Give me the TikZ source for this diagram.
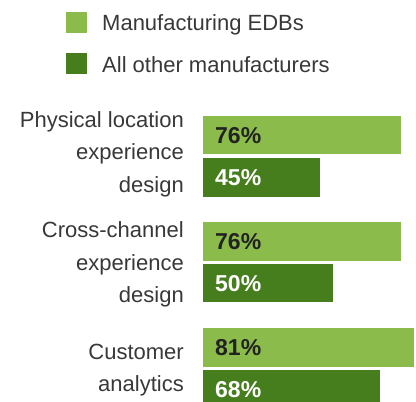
\documentclass[tikz,border=0pt]{standalone}
\usepackage{fontspec}
\setmainfont{Liberation Sans}
\definecolor{lightg}{HTML}{8BBB4B}
\definecolor{darkg}{HTML}{467E1D}
\definecolor{txt}{HTML}{383838}
\definecolor{btxt}{HTML}{222222}
\begin{document}
\begin{tikzpicture}[x=1pt,y=-1pt,
  lab/.style={inner sep=0pt,anchor=base east,text=txt,font=\fontsize{22}{26}\selectfont},
  leg/.style={inner sep=0pt,anchor=base west,text=txt,font=\fontsize{22}{26}\selectfont},
  val/.style={inner sep=0pt,anchor=base west,font=\fontsize{23}{27}\selectfont\bfseries},
  lbar/.style={fill=lightg,draw=none},
  dbar/.style={fill=darkg,draw=none}]
\useasboundingbox (0,0) rectangle (416,402);
% legend
\fill[lightg] (66,12) rectangle (87,33);
\fill[darkg] (66,53) rectangle (87,74);
\node[leg] (l1) at (102,30) {Manufacturing EDBs};
\node[leg] (l2) at (102,72) {All other manufacturers};
% group 1
\node[lab] (a1) at (184,127.5) {Physical location};
\node[lab] (a2) at (184,159.5) {experience};
\node[lab] (a3) at (184,192) {design};
\fill[lbar] (203,116) rectangle (401,154);
\fill[dbar] (203,158) rectangle (320,196.5);
\node[val,text=btxt] (v1) at (215,143.5) {76\%};
\node[val,text=white] (v2) at (215,185.5) {45\%};
% group 2
\node[lab] (b1) at (184,237) {Cross-channel};
\node[lab] (b2) at (184,270) {experience};
\node[lab] (b3) at (184,302.5) {design};
\fill[lbar] (203,222) rectangle (401,261);
\fill[dbar] (203,264) rectangle (333,302);
\node[val,text=btxt] (v3) at (215,249.5) {76\%};
\node[val,text=white] (v4) at (215,291) {50\%};
% group 3
\node[lab] (c1) at (184,359.5) {Customer};
\node[lab] (c2) at (184,391.5) {analytics};
\fill[lbar] (203,328) rectangle (414,367);
\fill[dbar] (203,370) rectangle (380,402);
\node[val,text=btxt] (v5) at (215,355.5) {81\%};
\node[val,text=white] (v6) at (215,397) {68\%};
\end{tikzpicture}
\end{document}
